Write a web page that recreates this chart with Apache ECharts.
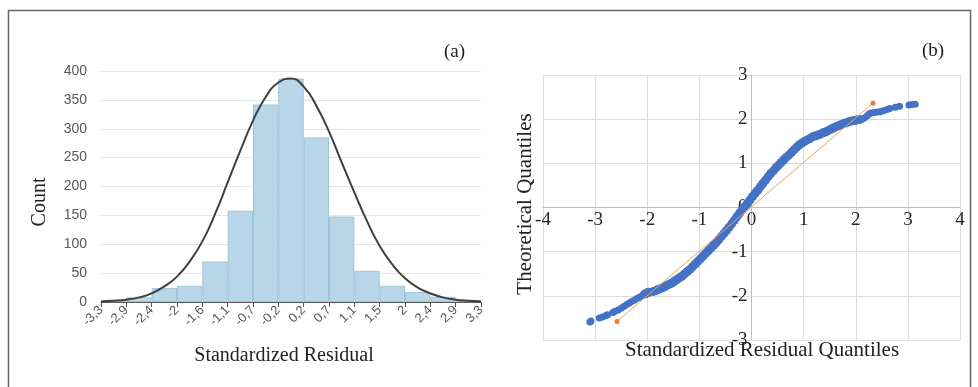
<!DOCTYPE html>
<html>
<head>
<meta charset="utf-8">
<script src="https://cdn.jsdelivr.net/npm/echarts@6/dist/echarts.min.js"></script>
<style>
  html, body { margin: 0; padding: 0; background: #fff; }
  #chart { width: 978px; height: 387px; }
</style>
</head>
<body>
<div id="chart"></div>
<script>
// (a) histogram of standardized residuals
const binEdges = ["-3,3", "-2,9", "-2,4", "-2", "-1,6", "-1,1", "-0,7", "-0,2",
  "0,2", "0,7", "1,1", "1,5", "2", "2,4", "2,9", "3,3"];
const binCounts = [2, 8, 24, 28, 70, 158, 342, 387, 285, 148, 54, 28, 17, 9, 3];
// normal curve, read at every half bin from the left edge
const curveCounts = [1, 2, 4, 8, 15, 27, 44, 70, 105, 152, 207, 262, 314, 355, 380, 387,
  373, 340, 295, 242, 190, 140, 97, 65, 41, 25, 15, 8, 4, 2, 1];

// (b) Q-Q plot
const qqX = [-3.10, -3.08, -2.92, -2.86, -2.80, -2.76, -2.66, -2.62, -2.56, -2.50,
  -2.45, -2.40, -2.35, -2.30, -2.25, -2.20, -2.15, -2.10, -2.05, -2.00, -1.97,
  -1.88, -1.83, -1.78, -1.73, -1.68, -1.63, -1.58, -1.53, -1.48, -1.43, -1.38,
  -1.33, -1.28, -1.23, -1.18, -1.13, -1.08, -1.03, -0.98, -0.93, -0.88, -0.83,
  -0.78, -0.73, -0.68, -0.63, -0.58, -0.53, -0.48, -0.43, -0.38, -0.33, -0.28,
  -0.23, -0.18, -0.13, -0.08, -0.03, 0.02, 0.07, 0.12, 0.17, 0.22, 0.27, 0.32,
  0.37, 0.42, 0.47, 0.52, 0.57, 0.62, 0.67, 0.72, 0.77, 0.82, 0.87, 0.92, 0.97,
  1.02, 1.07, 1.12, 1.17, 1.22, 1.27, 1.32, 1.37, 1.42, 1.47, 1.52, 1.57, 1.62,
  1.67, 1.72, 1.77, 1.82, 1.87, 1.92, 1.97, 2.02, 2.07, 2.12, 2.17, 2.22, 2.26,
  2.30, 2.36, 2.42, 2.47, 2.53, 2.60, 2.65, 2.76, 2.84, 3.02, 3.08, 3.14];
const qqY = [-2.59, -2.57, -2.50, -2.48, -2.45, -2.43, -2.38, -2.35, -2.32, -2.28,
  -2.24, -2.20, -2.17, -2.13, -2.10, -2.06, -2.03, -2.00, -1.96, -1.93, -1.92,
  -1.90, -1.88, -1.85, -1.83, -1.80, -1.77, -1.74, -1.71, -1.67, -1.63, -1.59,
  -1.55, -1.50, -1.45, -1.40, -1.34, -1.28, -1.22, -1.16, -1.10, -1.04, -0.98,
  -0.92, -0.86, -0.80, -0.73, -0.66, -0.59, -0.52, -0.45, -0.37, -0.29, -0.21,
  -0.13, -0.05, 0.02, 0.09, 0.17, 0.25, 0.32, 0.39, 0.47, 0.55, 0.62, 0.70,
  0.77, 0.83, 0.90, 0.96, 1.02, 1.08, 1.14, 1.19, 1.25, 1.31, 1.37, 1.42, 1.46,
  1.50, 1.53, 1.56, 1.60, 1.62, 1.64, 1.66, 1.69, 1.71, 1.74, 1.77, 1.80, 1.83,
  1.85, 1.88, 1.90, 1.92, 1.94, 1.96, 1.97, 1.98, 1.99, 2.00, 2.03, 2.08, 2.12,
  2.14, 2.15, 2.16, 2.17, 2.19, 2.22, 2.24, 2.27, 2.29, 2.32, 2.33, 2.34];
const refX = [-2.58, 2.33];
const refY = [-2.58, 2.36];

const serif = "'Liberation Serif', 'DejaVu Serif', serif";
const sans = "'Liberation Sans', Arial, sans-serif";

let binNames = [];
for (let i = 0; i < binCounts.length; i++) binNames.push(binEdges[i] + " – " + binEdges[i + 1]);
let curveData = curveCounts.map(function (v, i) { return [i / 2, v]; });
let qqData = qqX.map(function (x, i) { return [x, qqY[i]]; });
let refData = refX.map(function (x, i) { return [x, refY[i]]; });

// grid (b): the axes cross at zero, so move them inside by half the plot size
let gridB = { left: 543, right: 18, top: 75, bottom: 47 };
let plotW = 978 - gridB.left - gridB.right,
  plotH = 387 - gridB.top - gridB.bottom;

let myChart = echarts.init(document.getElementById("chart"), null, { renderer: "canvas" });
let option = {
  animation: false,
  backgroundColor: "#fff",
  grid: [
    { left: 101, right: 497, top: 71, bottom: 85 },
    gridB
  ],
  xAxis: [
    {
      gridIndex: 0, type: "category", position: "top", data: binNames,
      boundaryGap: true, show: false
    },
    {
      gridIndex: 0, type: "value", position: "bottom", min: 0, max: 15, interval: 1,
      axisLine: { show: true, onZero: false, lineStyle: { color: "#595959", width: 1 } },
      axisTick: { show: true, length: 5, lineStyle: { color: "#595959" } },
      splitLine: { show: false },
      axisLabel: {
        rotate: 45, margin: 6, color: "#595959", fontFamily: sans, fontSize: 13,
        formatter: function (v) { return binEdges[v]; }
      }
    },
    {
      gridIndex: 1, type: "value", min: -4, max: 4, interval: 1,
      position: "bottom", offset: -plotH / 2,
      axisLine: { onZero: false, lineStyle: { color: "#bfbfbf" } },
      axisTick: { show: false },
      splitLine: { lineStyle: { color: "#dcdcdc" } },
      axisLabel: { color: "#262626", fontFamily: serif, fontSize: 19, margin: 3 }
    }
  ],
  yAxis: [
    {
      gridIndex: 0, type: "value", min: 0, max: 400, interval: 50,
      axisLine: { show: false }, axisTick: { show: false },
      splitLine: { lineStyle: { color: "#e6e6e6" } },
      axisLabel: { color: "#595959", fontFamily: sans, fontSize: 14, margin: 14 }
    },
    {
      gridIndex: 1, type: "value", min: -3, max: 3, interval: 1,
      position: "left", offset: -plotW / 2,
      axisLine: { onZero: false, lineStyle: { color: "#bfbfbf" } },
      axisTick: { show: false },
      splitLine: { lineStyle: { color: "#dcdcdc" } },
      axisLabel: { color: "#262626", fontFamily: serif, fontSize: 19, margin: 4 }
    }
  ],
  series: [
    {
      type: "bar", xAxisIndex: 0, yAxisIndex: 0, data: binCounts,
      barCategoryGap: 0,
      itemStyle: { color: "#b7d6e8", borderColor: "#9ec4db", borderWidth: 1 }
    },
    {
      type: "line", xAxisIndex: 1, yAxisIndex: 0, data: curveData,
      smooth: true, symbol: "none",
      lineStyle: { color: "#3f3f3f", width: 2 }
    },
    {
      type: "line", xAxisIndex: 2, yAxisIndex: 1, data: refData,
      symbol: "circle", symbolSize: 5,
      itemStyle: { color: "#ed7d31" },
      lineStyle: { color: "#f0a060", width: 1 }
    },
    {
      type: "scatter", xAxisIndex: 2, yAxisIndex: 1, data: qqData,
      // the band is thicker where the points are dense
      symbolSize: function (d) { return Math.abs(d[0]) < 2.1 ? 9 : 7; },
      itemStyle: { color: "#4472c4", opacity: 1 }
    }
  ],
  graphic: [
    {
      type: "rect", silent: true,
      shape: { x: 8.5, y: 10.5, width: 962, height: 400 },
      style: { fill: null, stroke: "#666", lineWidth: 1.5 }
    },
    {
      type: "text", left: 444, top: 43,
      style: { text: "(a)", font: "19px " + serif, fill: "#222" }
    },
    {
      type: "text", left: 922, top: 42,
      style: { text: "(b)", font: "19px " + serif, fill: "#222" }
    },
    {
      type: "text", x: 40, y: 202, rotation: Math.PI / 2,
      style: { text: "Count", font: "20px " + serif, fill: "#222", align: "center", verticalAlign: "middle" }
    },
    {
      type: "text", x: 284, y: 356,
      style: { text: "Standardized Residual", font: "20px " + serif, fill: "#222", align: "center", verticalAlign: "middle" }
    },
    {
      type: "text", x: 525, y: 204, rotation: Math.PI / 2,
      style: { text: "Theoretical Quantiles", font: "21px " + serif, fill: "#222", align: "center", verticalAlign: "middle" }
    },
    {
      type: "text", x: 762, y: 350,
      style: { text: "Standardized Residual Quantiles", font: "21px " + serif, fill: "#222", align: "center", verticalAlign: "middle" }
    }
  ]
};

if (option && typeof option === "object") myChart.setOption(option);
window.addEventListener("resize", function () {
  myChart.resize();
});
</script>
</body>
</html>
